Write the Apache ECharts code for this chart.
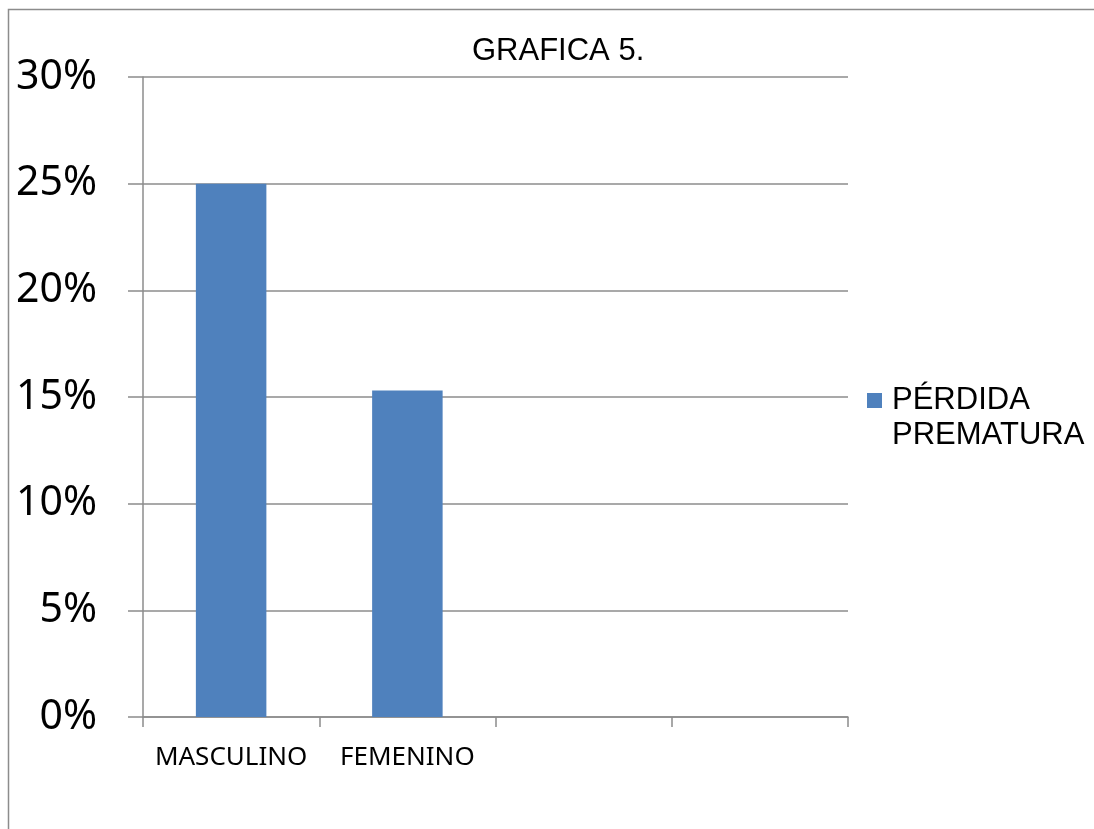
<!DOCTYPE html>
<html>
<head>
<meta charset="utf-8">
<script src="https://cdn.jsdelivr.net/npm/echarts@6/dist/echarts.min.js"></script>
<style>html,body{margin:0;padding:0;background:#fff}#c{width:1094px;height:829px}</style>
</head>
<body>
<div id="c"></div>
<script>
const categories = ['MASCULINO', 'FEMENINO', '', ''];
const seriesName = 'PÉRDIDA\nPREMATURA';
const values = [25, 15.3, null, null];
const titleText = 'GRAFICA 5.';

const chart = echarts.init(document.getElementById('c'), null, {renderer: 'canvas'});
const axisGray = '#8c8c8c';
chart.setOption({
  animation: false,
  backgroundColor: '#ffffff',
  graphic: [{
    type: 'rect', silent: true,
    shape: {x: 8.5, y: 9.5, width: 1200, height: 1000},
    style: {fill: 'none', stroke: '#8c8c8c', lineWidth: 1.5}
  }],
  title: {
    text: titleText, left: 472, top: 36, padding: 0,
    textStyle: {fontFamily: 'Liberation Sans', fontSize: 31, fontWeight: 'normal', color: '#000'}
  },
  legend: {
    left: 867, top: 348, padding: 0,
    itemWidth: 15, itemHeight: 15, icon: 'rect',
    formatter: function (n) { return ' \n' + n; },
    textStyle: {fontFamily: 'Liberation Sans', fontSize: 31, color: '#000', lineHeight: 35, padding: [0, 0, 0, 5]},
    data: [seriesName]
  },
  grid: {left: 143, right: 246, top: 77, bottom: 112, containLabel: false},
  xAxis: {
    type: 'category', data: categories,
    axisLine: {show: true, lineStyle: {color: axisGray, width: 1.5}},
    axisTick: {show: true, length: 10, alignWithLabel: false, lineStyle: {color: axisGray, width: 1.5}},
    axisLabel: {margin: 28, fontFamily: 'Noto Sans', fontSize: 26, color: '#000', interval: 0},
    splitLine: {show: false}
  },
  yAxis: {
    type: 'value', min: 0, max: 30, interval: 5,
    axisLine: {show: true, lineStyle: {color: axisGray, width: 1.5}},
    axisTick: {show: true, length: 15, lineStyle: {color: axisGray, width: 1.5}},
    axisLabel: {formatter: '{value}%', margin: 46, fontFamily: 'Noto Sans', fontSize: 41, color: '#000'},
    splitLine: {show: true, lineStyle: {color: axisGray, width: 1.5}}
  },
  series: [{
    name: seriesName, type: 'bar', data: values,
    barCategoryGap: '60%',
    itemStyle: {color: '#4f81bd'}
  }]
});
</script>
</body>
</html>
